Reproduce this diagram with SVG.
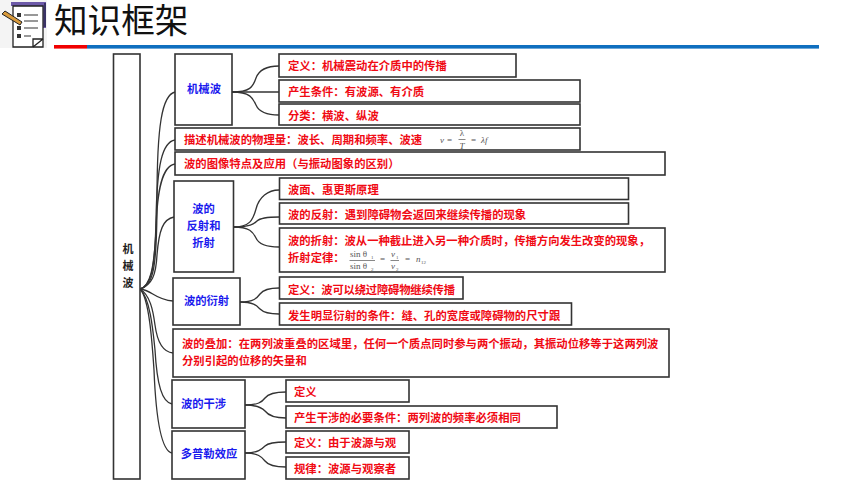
<svg xmlns="http://www.w3.org/2000/svg" width="860" height="484" viewBox="0 0 860 484">
<style>
text{font-family:"Noto Sans CJK SC","Liberation Sans",sans-serif}
.b{fill:#fff;stroke:#333;stroke-width:1.6}
.r{fill:#f00a14;font-size:11.35px;font-weight:700}
.u{fill:#1a1aee;font-size:11.3px;font-weight:700;text-anchor:middle}
.k{fill:#222;font-size:11px;font-weight:700;text-anchor:middle}
.c{fill:none;stroke:#333;stroke-width:1.3}
.m{fill:#555;font-family:"Liberation Serif",serif;font-size:9px}
.s{fill:#555;font-family:"Liberation Serif",serif;font-size:5px}
.i{font-style:italic}
.f{stroke:#555;stroke-width:.7}
</style>
<g id="header">
<rect x="0" y="0" width="47" height="48" fill="#f4f4f4"/>
<path d="M11 4H44V28" fill="none" stroke="#6d5aa8" stroke-width="4"/>
<path d="M44 3h2V27h-2z" fill="#3b3366"/>
<path d="M13 6H43V47H13z" fill="#fff" stroke="#222" stroke-width="1.3"/>
<path d="M33 47V39H43M33 47L43 39" fill="#fff" stroke="#222" stroke-width="1.3"/>
<g fill="#333"><rect x="17" y="13" width="4" height="4"/><rect x="17" y="26" width="4" height="4"/><rect x="17" y="34" width="4" height="4"/></g>
<g stroke="#333" stroke-width="1.2"><path d="M24 15H38M24 21H38M24 28H38M24 36H31"/></g>
<path d="M2 14L5 11L22 22L20 25Z" fill="#d89a3c" stroke="#222"/>
<text x="54" y="33" font-size="33.6" fill="#111">知识框架</text>
<rect x="54" y="45" width="33" height="3.6" fill="#f00000"/>
<rect x="87" y="45" width="732" height="3.6" fill="#0f6fbf"/>
</g>
<g id="connectors">
<path class="c" d="M140 289C153 286 157 270 157 200C157 125 162 95 175 92"/>
<path class="c" d="M140 289C151 286 155 270 156 220C157 165 162 142 175 140"/>
<path class="c" d="M140 289C150 286 154 270 156 230C157 190 162 166 175 164"/>
<path class="c" d="M140 289C152 285 156 275 157 255C159 230 163 219 174 217"/>
<path class="c" d="M140 289C152 290 155 300 173 301"/>
<path class="c" d="M140 289C150 295 153 310 155 325C157 340 162 352 173 353"/>
<path class="c" d="M140 289C150 298 153 330 155 350C157 385 162 402 172 404"/>
<path class="c" d="M140 289C149 298 152 340 154 370C156 420 162 451 172 453"/>
<path class="c" d="M232 92C250 92 253 87 256 78C259 70 268 66 279 66"/>
<path class="c" d="M232 92H279"/>
<path class="c" d="M232 92C250 92 253 98 256 105C259 112 268 115 279 115"/>
<path class="c" d="M233 227C250 227 253 220 256 209C259 197 268 190 279 190"/>
<path class="c" d="M233 227C250 227 254 224 257 221C260 218 268 217 279 217"/>
<path class="c" d="M233 227C250 227 253 232 256 238C259 245 268 247 279 247"/>
<path class="c" d="M240 302C254 302 257 298 260 294C263 290 270 288 279 288"/>
<path class="c" d="M240 302C254 302 257 306 260 309C263 312 270 314 279 314"/>
<path class="c" d="M245 405C258 405 262 402 265 398C268 394 275 392 286 392"/>
<path class="c" d="M245 405C258 405 262 408 265 411C268 415 275 418 286 418"/>
<path class="c" d="M245 453C258 453 262 449 265 446C268 443 275 442 286 442"/>
<path class="c" d="M245 453C258 453 262 457 265 461C268 465 275 467 286 467"/>
</g>
<g id="root"><rect class="b" x="113.500" y="54" width="26.500" height="425"/><text class="k" x="128" y="253">机</text><text class="k" x="128" y="270">械</text><text class="k" x="128" y="287">波</text></g>
<g id="n-jixiebo"><rect class="b" x="175" y="54" width="57" height="71"/><text class="u" x="204" y="93">机械波</text></g>
<g id="n-dingyi1"><rect class="b" x="279" y="54" width="237" height="23"/><text class="r" x="288" y="70">定义：机械震动在介质中的传播</text></g>
<g id="n-chansheng"><rect class="b" x="279" y="80" width="301" height="22"/><text class="r" x="288" y="96">产生条件：有波源、有介质</text></g>
<g id="n-fenlei"><rect class="b" x="279" y="104" width="301" height="21"/><text class="r" x="288" y="120">分类：横波、纵波</text></g>
<g id="n-miaoshu"><rect class="b" x="175" y="128" width="405" height="22"/><text class="r" x="184" y="144">描述机械波的物理量：波长、周期和频率、波速</text>
<text class="m i" x="440" y="143">v</text><text class="m" x="447" y="143">=</text><text class="m" x="462" y="136" text-anchor="middle">λ</text><path class="f" d="M458.500 139.500H465.500"/><text class="m i" x="462" y="149" text-anchor="middle">T</text><text class="m" x="471" y="143">=</text><text class="m i" x="481" y="143">λf</text></g>
<g id="n-tuxiang"><rect class="b" x="175" y="152" width="490" height="23"/><text class="r" x="184" y="168">波的图像特点及应用（与振动图象的区别）</text></g>
<g id="n-fanshe"><rect class="b" x="174" y="181" width="59.500" height="91"/><text class="u" x="203.500" y="213">波的</text><text class="u" x="203.500" y="230">反射和</text><text class="u" x="203.500" y="247">折射</text></g>
<g id="n-bomian"><rect class="b" x="279.500" y="178" width="349" height="21.500"/><text class="r" x="288" y="194">波面、惠更斯原理</text></g>
<g id="n-fan"><rect class="b" x="279.500" y="203" width="349" height="21"/><text class="r" x="288" y="219">波的反射：遇到障碍物会返回来继续传播的现象</text></g>
<g id="n-zhe"><rect class="b" x="279.500" y="228" width="385.500" height="44"/><text class="r" x="288" y="245" textLength="362">波的折射：波从一种截止进入另一种介质时，传播方向发生改变的现象，</text><text class="r" x="288" y="262">折射定律：</text>
<text class="m" x="350" y="257">sin θ</text><text class="s" x="371" y="259">1</text><path class="f" d="M349.500 260.500H375"/><text class="m" x="350" y="269">sin θ</text><text class="s" x="371" y="271">2</text><text class="m" x="380" y="262">=</text><text class="m i" x="391" y="257">v</text><text class="s" x="396" y="259">1</text><path class="f" d="M390.500 260.500H399"/><text class="m i" x="391" y="269">v</text><text class="s" x="396" y="271">2</text><text class="m" x="405" y="262">=</text><text class="m i" x="416" y="262">n</text><text class="s" x="421" y="264">12</text></g>
<g id="n-yanshe"><rect class="b" x="173" y="278" width="67" height="47"/><text class="u" x="206.500" y="305">波的衍射</text></g>
<g id="n-dingyi2"><rect class="b" x="279.500" y="277" width="183.500" height="22"/><text class="r" x="288" y="294" textLength="167">定义：波可以绕过障碍物继续传播</text></g>
<g id="n-tiaojian"><rect class="b" x="279.500" y="303" width="292" height="22"/><text class="r" x="288" y="320">发生明显衍射的条件：缝、孔的宽度或障碍物的尺寸跟</text></g>
<g id="n-diejia"><rect class="b" x="173" y="329" width="496" height="48"/><text class="r" x="182" y="348">波的叠加：在两列波重叠的区域里，任何一个质点同时参与两个振动，其振动位移等于这两列波</text><text class="r" x="182" y="365">分别引起的位移的矢量和</text></g>
<g id="n-ganshe"><rect class="b" x="172" y="380" width="73" height="48"/><text class="u" x="203.500" y="408">波的干涉</text></g>
<g id="n-dingyi3"><rect class="b" x="286" y="380" width="123" height="22"/><text class="r" x="294" y="396">定义</text></g>
<g id="n-biyao"><rect class="b" x="286" y="406" width="271" height="22"/><text class="r" x="294" y="422">产生干涉的必要条件：两列波的频率必须相同</text></g>
<g id="n-duopule"><rect class="b" x="172" y="431" width="73" height="48"/><text class="u" x="209" y="458">多普勒效应</text></g>
<g id="n-dingyi4"><rect class="b" x="286" y="431" width="123" height="22"/><text class="r" x="294" y="447">定义：由于波源与观</text></g>
<g id="n-guilv"><rect class="b" x="286" y="457" width="123" height="22"/><text class="r" x="294" y="473">规律：波源与观察者</text></g>
</svg>
